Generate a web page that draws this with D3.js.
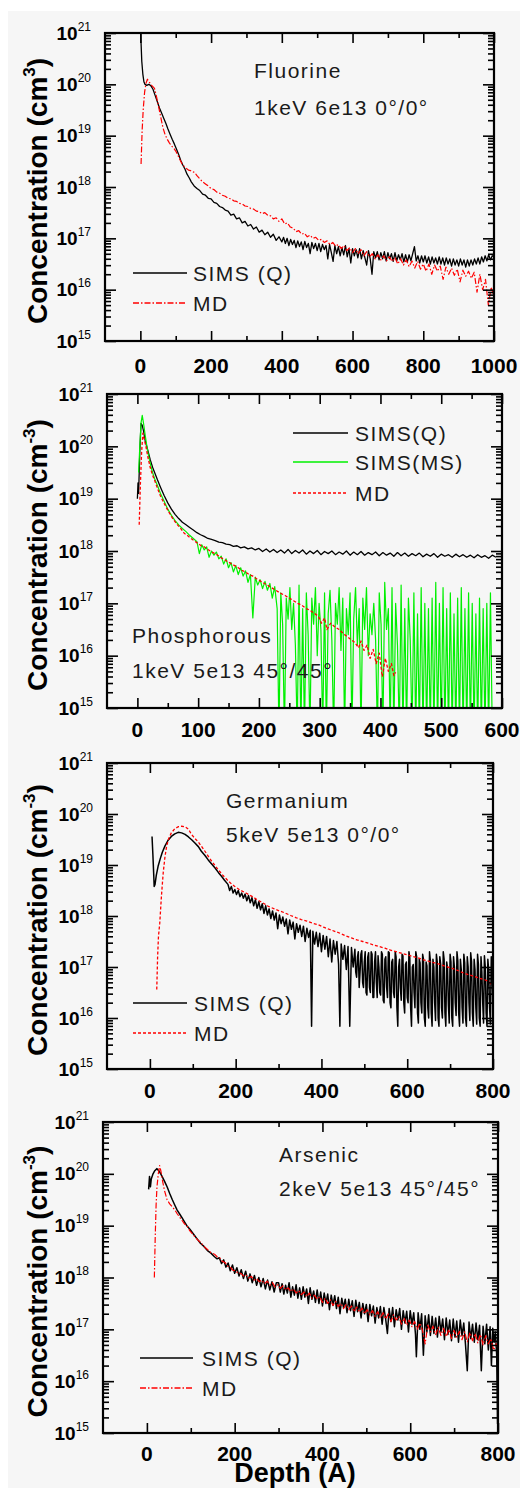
<!DOCTYPE html>
<html>
<head>
<meta charset="utf-8">
<script src="https://cdn.jsdelivr.net/npm/d3@7"></script>
<style>
body { margin: 0; background: #fff; }
svg { display: block; }
text { font-family: "Liberation Sans", Arial, sans-serif; }
</style>
</head>
<body>
<svg id="chart" width="520" height="1488"></svg>
<script>
"use strict";

// values are [depth (A), log10 concentration (cm-3)]; 14.5 means the signal fell off the axis
var fluorineSims = [[0,21.3],[2,20.8],[4,20.45],[7,20.2],[10,20.05],[13,20.0],[18,19.98],[24,20.0],[30,19.97],[36,19.9],[42,19.78],[48,19.66],[54,19.54],[60,19.44],[66,19.34],[72,19.24],[78,19.13],[84,19.03],[90,18.93],[96,18.84],[102,18.74],[108,18.64],[114,18.52],[120,18.43],[126,18.35],[132,18.25],[138,18.18],
  [144,18.1],[152,18.02],[160,17.97],[168,17.93],[176,17.86],[184,17.84],[192,17.78],[200,17.77],[208,17.7],[216,17.68],[224,17.62],[232,17.6],[240,17.55],[248,17.53],[256,17.45],[264,17.47],[272,17.38],[280,17.4],[288,17.3],[296,17.33],[304,17.24],[312,17.27],[320,17.18],[328,17.22],[336,17.12],[344,17.16],[352,17.07],[360,17.12],[368,17.02],[376,17.08],[384,16.96],[392,17.03],
  [400,16.93],[405,17.02],[410,16.9],[415,17.0],[420,16.86],[425,16.98],[430,16.88],[435,16.96],[440,16.82],[445,16.95],[450,16.84],[455,16.93],[460,16.78],[465,16.94],[470,16.82],[475,16.9],[480,16.7],[485,16.92],[490,16.8],[495,16.9],[500,16.76],[505,16.9],[510,16.74],[515,16.88],[520,16.78],[525,16.86],[530,16.6],[535,16.88],[540,16.72],[545,16.55],[550,16.86],[555,16.7],[560,16.84],[565,16.66],[570,16.82],[575,16.68],[580,16.86],[585,16.64],[590,16.8],[595,16.52],[600,16.8],[605,16.66],[610,16.78],[615,16.62],[620,16.8],[625,16.6],[630,16.76],[635,16.62],[640,16.48],[645,16.76],[650,16.6],[655,16.3],[660,16.74],[665,16.62],[670,16.74],[675,16.58],[680,16.72],[685,16.6],[690,16.74],[695,16.56],[700,16.72],[705,16.6],[710,16.7],[715,16.55],[720,16.72],[725,16.56],[730,16.68],[735,16.58],[740,16.7],[745,16.54],[750,16.68],[755,16.54],[760,16.68],[765,16.56],[770,16.7],[775,16.84],[780,16.56],[785,16.66],[790,16.52],[795,16.66],[800,16.54],[805,16.66],[810,16.52],[815,16.64],[820,16.5],[825,16.64],[830,16.52],[835,16.62],[840,16.5],[845,16.64],[850,16.5],[855,16.62],[860,16.48],[865,16.62],[870,16.5],[875,16.6],[880,16.46],[885,16.6],[890,16.48],[895,16.58],[900,16.46],[905,16.6],[910,16.48],[915,16.58],[920,16.44],[925,16.58],[930,16.46],[935,16.58],[940,16.48],[945,16.6],[950,16.5],[955,16.62],[960,16.5],[965,16.64],[970,16.54],[975,16.66],[980,16.56],[985,16.68],[990,16.58],[995,16.66],[1000,16.64]];

var fluorineMd = [[2,18.45],[5,19.1],[8,19.5],[12,19.85],[16,20.02],[20,20.1],[24,20.05],[28,20.02],[32,19.98],[36,19.95],[40,19.92],[46,19.75],[52,19.55],[58,19.35],[64,19.15],[70,19.02],[76,18.93],[82,18.86],[88,18.8],[94,18.76],[100,18.7],[106,18.62],[112,18.53],[118,18.45],[124,18.4],[130,18.36],[136,18.33],[142,18.32],[148,18.3],[154,18.28],[160,18.22],[168,18.16],[176,18.1],[184,18.06],[192,18.02],
  [200,17.97],[208,17.95],[216,17.9],[224,17.88],[232,17.84],[240,17.82],[248,17.78],[256,17.77],[264,17.73],[272,17.72],[280,17.68],[288,17.67],[296,17.63],[304,17.62],[312,17.58],[320,17.57],[328,17.53],[336,17.52],[344,17.48],[352,17.5],[360,17.45],[368,17.44],[376,17.38],[384,17.4],[392,17.33],[400,17.38],[408,17.28],[416,17.3],[424,17.22],[432,17.2],[440,17.13],[448,17.15],[456,17.08],[464,17.1],[472,17.03],[480,17.06],[488,17.0],[496,17.02],[504,16.96],[512,16.98],[520,16.92],[528,16.95],[536,16.88],[544,16.92],[552,16.85],[560,16.88],[568,16.8],[576,16.86],[584,16.76],[592,16.82],[600,16.72],[608,16.8],[616,16.7],[624,16.78],[632,16.66],[640,16.74],[648,16.64],[656,16.7],[664,16.6],[672,16.68],[680,16.58],[688,16.66],[696,16.56],[704,16.64],[712,16.55],[720,16.62],[728,16.5],[736,16.6],[744,16.48],[752,16.58],[760,16.45],[768,16.56],[776,16.42],[784,16.55],[792,16.4],[800,16.5],[808,16.36],[816,16.5],[824,16.3],[832,16.48],[840,16.36],[848,16.46],[856,16.2],[864,16.44],[872,16.3],[880,16.42],[888,16.28],[896,16.4],[904,16.15],[912,16.38],[920,16.26],[928,16.36],[936,16.22],[944,16.34],[952,15.95],[960,16.3],[968,16.0],[976,16.2],[984,15.7],[992,16.05],[1000,15.85]];

var phosSimsQ = [[0,19.0],[1,19.3],[2,19.1],[4,19.9],[6,20.44],[8,20.4],[10,20.3],[13,20.1],[17,19.93],[21,19.75],[25,19.6],[29,19.48],[33,19.36],[38,19.22],[44,19.06],[50,18.92],[56,18.8],[62,18.7],[68,18.62],[74,18.55],[80,18.5],[86,18.45],[92,18.4],[98,18.35],[104,18.31],[110,18.28],[116,18.24],[122,18.22],[128,18.2],[134,18.17],[140,18.16],[146,18.13],[152,18.12],[158,18.09],[164,18.1],[170,18.06],[176,18.08],[182,18.04],[188,18.06],[194,18.02],[200,18.05],
  [206,17.99],[212,18.04],[218,17.98],[224,18.03],[230,17.97],[236,18.02],[242,17.96],[248,18.03],[254,17.95],[260,18.01],[266,17.96],[272,18.02],[278,17.94],[284,18.0],[290,17.95],[296,18.01],[302,17.93],[308,17.99],[314,17.95],[320,18.0],[326,17.93],[332,17.98],[338,17.94],[344,18.0],[350,17.92],[356,17.98],[362,17.93],[368,17.99],[374,17.92],[380,17.97],[386,17.93],[392,17.98],[398,17.91],[404,17.97],[410,17.92],[416,17.96],[422,17.9],[428,17.97],[434,17.91],[440,17.96],[446,17.9],[452,17.95],[458,17.91],[464,17.96],[470,17.89],[476,17.94],[482,17.9],[488,17.95],[494,17.88],[500,17.94],[506,17.9],[512,17.93],[518,17.88],[524,17.94],[530,17.89],[536,17.93],[542,17.88],[548,17.92],[554,17.87],[560,17.93],[566,17.88],[572,17.91],[578,17.86],[584,17.92],[590,17.88]];

var phosSimsMs = [[2,19.5],[4,20.0],[6,20.45],[8,20.59],[10,20.45],[13,20.2],[17,19.9],[21,19.68],[25,19.5],[29,19.36],[33,19.25],[38,19.1],[44,18.95],[50,18.8],[56,18.68],[62,18.58],[68,18.5],[74,18.43],[80,18.37],[86,18.3],[92,18.24],[98,18.18],[102,17.95],[106,18.12],[110,18.02],[114,18.08],[118,17.88],[122,18.0],[126,17.92],[130,17.98],[134,17.85],[138,17.9],[142,17.75],[146,17.85],[150,17.68],[154,17.78],[158,17.6],[162,17.72],[166,17.55],[170,17.68],[174,17.52],[178,17.62],[182,17.4],[186,17.55],[190,16.72],[194,17.5],[198,17.35],[202,17.45],[206,17.28],[210,17.42],[214,17.25],[218,17.38],[222,17.1],[226,17.32],
  [230,16.9],[233,14.5],[236,17.2],[239,16.6],[242,14.5],[245,17.1],[248,16.7],[251,17.3],[254,16.5],[257,17.0],[260,16.2],[263,14.5],[266,17.35],[269,14.5],[272,16.9],[275,14.5],[278,17.2],[281,16.4],[284,14.5],[287,17.1],[290,16.6],[293,17.3],[296,16.0],[299,17.0],[302,16.5],[305,14.5],[308,17.2],[311,14.5],[314,16.8],[317,17.25],[320,16.3],[323,14.5],[326,17.0],[329,16.6],[332,17.3],[335,16.1],[338,17.1],[341,14.5],[344,16.9],[347,16.4],[350,17.2],[353,14.5],[356,16.7],[359,17.3],[362,16.2],[365,16.9],[368,14.5],[371,17.1],[374,16.5],[377,17.3],[380,16.0],[383,16.8],[386,16.4],[389,17.0],[392,16.3],[395,14.5],[398,17.2],[401,16.6],[404,14.5],[407,17.4],[410,16.5],[413,16.9],[416,14.5],[419,17.3],[422,14.5],[425,17.0],[428,16.2],[431,14.5],[434,17.35],[437,14.5],[440,16.9],[443,14.5],[446,17.1],[449,16.3],[452,14.5],[455,17.2],[458,14.5],[461,16.8],[464,14.5],[467,17.3],[470,14.5],[473,17.0],[476,14.5],[479,16.9],[482,14.5],[485,17.1],[488,14.5],[491,17.4],[494,14.5],[497,17.0],[500,14.5],[503,17.3],[506,14.5],[509,16.9],[512,14.5],[515,17.2],[518,14.5],[521,16.8],[524,14.5],[527,17.1],[530,14.5],[533,17.3],[536,14.5],[539,16.9],[542,14.5],[545,17.2],[548,14.5],[551,17.0],[554,14.5],[557,16.8],[560,14.5],[563,17.1],[566,14.5],[569,16.9],[572,14.5],[575,17.0],[578,14.5],[581,17.2],[584,14.5]];

var phosMd = [[3,18.5],[5,19.3],[7,19.9],[9,20.25],[11,20.15],[14,20.0],[17,19.81],[21,19.6],[25,19.45],[28,19.36],[33,19.2],[38,19.05],[44,18.91],[50,18.78],[56,18.66],[60,18.59],[66,18.5],[72,18.42],[77,18.34],[82,18.3],[88,18.24],[94,18.19],[99,18.15],[105,18.1],[110,18.08],[116,18.03],[121,17.99],[126,17.96],[132,17.92],[138,17.87],[143,17.84],[148,17.8],[154,17.76],[160,17.72],[166,17.68],[172,17.63],[178,17.6],[184,17.55],[190,17.52],[196,17.47],[202,17.43],[209,17.38],[215,17.34],[222,17.29],[229,17.24],[236,17.19],[243,17.15],[250,17.1],[257,17.05],[264,17.0],[271,16.96],[278,16.9],[285,16.86],[291,16.81],[298,16.75],[303,16.62],[308,16.72],[312,16.5],[318,16.62],[325,16.55],[332,16.5],[339,16.42],[346,16.36],[352,16.3],[358,16.25],[364,16.15],[368,16.28],[373,16.1],[378,16.2],[383,15.95],[388,16.12],[393,15.85],[398,16.05],[403,15.6],[408,15.95],[413,15.7],[418,15.85],[422,15.62],[425,15.68]];

var germSims = [[5,19.56],[7,19.2],[9,18.8],[10,18.58],[12,18.62],[15,18.8],[19,18.97],[24,19.12],[29,19.25],[35,19.37],[42,19.48],[50,19.56],[58,19.61],[66,19.64],[74,19.63],[82,19.6],[90,19.55],[98,19.49],[105,19.43],[113,19.36],[120,19.27],[128,19.19],[136,19.1],[144,19.02],[152,18.94],[160,18.85],[167,18.78],[174,18.7],[182,18.62],[186,18.5],[190,18.58],[194,18.45],[198,18.52],[202,18.42],[206,18.5],[210,18.38],[214,18.45],
  [218,18.35],[222,18.43],[226,18.3],[230,18.4],[234,18.26],[238,18.36],[242,18.2],[246,18.32],[250,18.15],[254,18.28],[258,18.12],[262,18.24],[266,18.05],[270,18.2],[274,18.02],[278,18.14],[282,17.95],[286,18.1],[290,17.92],[294,18.06],[298,17.75],[302,18.02],[306,17.85],[310,17.98],[314,17.8],[318,17.94],[322,17.65],[326,17.92],[330,17.74],[334,17.88],[338,17.55],[342,17.85],[346,17.68],[350,17.82],[354,17.6],[358,17.8],[362,17.5],[366,17.76],[370,17.58],[374,17.72],[377,15.84],[380,17.7],[384,17.45],[388,17.68],[392,17.4],[396,17.66],[400,17.3],[404,17.62],[408,17.35],[412,17.6],[416,17.2],[420,17.55],[424,17.1],[428,17.52],[432,17.25],[436,17.5],[440,17.05],[443,15.84],[446,17.45],[450,17.15],[454,17.42],[458,16.95],[462,17.4],[466,15.84],[470,17.38],[474,17.0],
  [478,17.35],[480,16.9],[482,16.8],[484,17.2],[486,17.3],[488,16.6],[490,16.9],[492,17.25],[494,17.32],[496,16.7],[498,16.6],[500,17.1],[502,17.3],[504,16.5],[506,16.45],[508,17.2],[510,17.28],[512,16.6],[514,16.5],[516,17.3],[518,17.25],[520,16.4],[522,16.4],[524,17.1],[526,17.3],[528,16.7],[530,16.4],[532,17.22],[534,17.0],[536,16.5],[538,16.45],[540,17.3],[542,17.25],[544,16.35],[546,16.3],[548,17.15],[550,17.2],[552,16.6],[554,16.4],[556,17.3],[558,17.28],[560,16.3],[562,16.2],[564,17.1],[566,17.15],[568,16.5],[570,16.4],[572,17.3],[574,17.2],[576,16.2],[578,15.84],[580,17.0],[582,17.15],[584,16.6],[586,16.35],[588,17.25],[590,17.22],[592,16.3],[594,16.1],[596,17.05],[598,17.1],[600,16.4],[602,16.3],[604,17.3],[606,17.18],[608,16.2],[610,15.84],[612,17.0],[614,17.05],[616,16.5],[618,16.2],[620,17.3],[622,17.2],[624,16.1],[626,15.9],[628,17.15],[630,17.08],[632,16.3],[634,16.1],[636,17.25],[638,17.15],[640,16.0],[642,15.84],[644,17.1],[646,17.02],[648,16.2],[650,16.0],[652,17.3],[654,17.12],[656,16.1],[658,15.84],[660,17.15],[662,17.0],[664,16.3],[666,15.95],[668,17.25],[670,17.1],[672,16.0],[674,15.84],[676,17.2],[678,17.05],[680,16.2],[682,16.0],[684,17.3],[686,17.15],[688,16.1],[690,15.84],[692,17.1],[694,16.98],[696,16.25],[698,15.9],[700,17.25],[702,17.1],[704,16.0],[706,15.84],[708,17.2],[710,17.0],[712,16.3],[714,16.05],[716,17.3],[718,17.12],[720,16.1],[722,15.84],[724,17.15],[726,16.95],[728,16.2],[730,15.9],[732,17.25],[734,17.08],[736,16.0],[738,15.84],[740,17.2],[742,17.0],[744,16.3],[746,15.95],[748,17.28],[750,17.1],[752,16.1],[754,15.84],[756,17.15],[758,16.95],[760,16.2],[762,15.88],[764,17.25],[766,17.05],[768,16.0],[770,15.84],[772,17.2],[774,16.9],[776,16.3],[778,15.9],[780,17.22],[782,17.0],[784,16.1],[786,15.84],[788,17.15],[790,16.92],[792,16.2],[794,15.88],[796,17.2],[798,17.0],[800,16.2]];

var germMd = [[16,16.56],[18,17.2],[20,17.6],[23,17.86],[27,18.4],[31,18.84],[35,19.15],[39,19.37],[44,19.52],[50,19.63],[58,19.71],[66,19.75],[74,19.76],[82,19.75],[90,19.7],[97,19.6],[105,19.52],[113,19.45],[120,19.37],[130,19.25],[140,19.12],[150,19.01],[159,18.91],[170,18.8],[180,18.71],[190,18.63],[198,18.58],[210,18.51],[224,18.45],[237,18.39],[250,18.32],[263,18.26],[276,18.19],[290,18.14],[302,18.1],[315,18.06],[328,18.01],[340,17.97],[353,17.93],[366,17.9],[379,17.86],[392,17.83],[405,17.78],[418,17.74],[431,17.7],[444,17.66],[457,17.61],[470,17.57],[483,17.53],[496,17.5],[509,17.47],[522,17.43],[535,17.4],[548,17.37],[561,17.33],[574,17.3],[586,17.27],[599,17.24],[612,17.21],[625,17.18],[638,17.14],[651,17.11],[664,17.08],[677,17.05],[690,17.01],[703,16.98],[716,16.94],[729,16.89],[742,16.85],[755,16.82],[768,16.78],[781,16.75],[792,16.7],[800,16.62]];

var arsSims = [[4,19.7],[6,19.95],[8,19.75],[10,19.9],[14,20.0],[18,20.06],[23,20.1],[28,20.05],[34,19.96],[40,19.86],[46,19.75],[52,19.62],[58,19.5],[64,19.39],[69,19.3],[75,19.22],[81,19.14],[86,19.07],[91,19.0],[98,18.93],[106,18.84],[114,18.75],[122,18.66],[130,18.6],[138,18.52],[146,18.47],[154,18.4],[160,18.36],
  [165,18.38],[170,18.27],[175,18.34],[180,18.2],[185,18.28],[190,18.13],[195,18.24],[200,18.08],[205,18.19],[210,18.03],[215,18.15],[220,17.98],[225,18.12],[230,17.93],[235,18.07],[240,17.9],[245,18.04],[250,17.85],[255,18.0],[260,17.82],[265,17.98],[270,17.78],[275,17.95],[280,17.76],[285,17.92],[290,17.72],[295,17.9],
  [300,17.9],[304,17.72],[308,17.88],[312,17.68],[316,17.85],[320,17.7],[324,17.9],[328,17.62],[332,17.82],[336,17.66],[340,17.86],[344,17.6],[348,17.8],[352,17.58],[356,17.82],[360,17.62],[364,17.78],[368,17.5],[372,17.8],[376,17.58],[380,17.74],[384,17.52],[388,17.76],[392,17.5],[396,17.72],[400,17.45],[404,17.7],[408,17.5],[412,17.68],[416,17.38],[420,17.66],[424,17.46],[428,17.65],[432,17.4],[436,17.62],[440,17.3],[444,17.6],[448,17.42],[452,17.58],[456,17.32],[460,17.58],[464,17.36],[468,17.55],[472,17.25],[476,17.56],[480,17.34],[484,17.52],[488,17.22],[492,17.5],[496,17.3],[500,17.48],[504,17.15],[508,17.48],[512,17.26],[516,17.45],[520,17.12],[524,17.42],[528,17.22],[532,17.44],[536,17.1],[540,17.42],[544,17.2],[548,16.92],[552,17.4],[556,17.15],[560,17.42],[564,17.05],[568,17.38],[572,17.18],[576,17.4],[580,17.0],[584,17.36],[588,17.12],[592,17.35],[596,16.95],[600,17.36],[604,17.1],[608,17.32],[612,16.9],[614,16.47],[618,17.32],[622,17.0],[626,17.3],[630,16.5],[634,17.26],[638,16.95],[642,17.28],[646,16.88],[650,17.25],[654,16.92],[658,17.22],[662,16.85],[666,17.25],[670,16.95],[674,17.2],[678,16.8],[682,17.22],[686,16.9],[690,17.18],[694,16.78],[698,17.2],[702,16.85],[706,17.16],[710,16.75],[714,17.18],[718,16.88],[722,17.12],[726,16.7],[730,16.2],[734,17.14],[738,16.82],[742,17.1],[746,16.75],[750,17.12],[754,16.8],[758,17.08],[762,16.2],[766,17.06],[770,16.72],[774,17.1],[778,16.6],[782,17.05],[785,16.3],[788,17.02],[791,16.75],[794,16.95],[797,16.5],[799,15.18],[800,16.8]];

var arsMd = [[17,18.0],[19,18.78],[21,19.4],[23,19.75],[26,20.0],[29,20.16],[32,20.05],[36,19.85],[40,19.68],[46,19.5],[52,19.42],[58,19.36],[64,19.3],[69,19.23],[75,19.16],[81,19.09],[86,19.03],[91,19.0],[98,18.9],[106,18.82],[114,18.74],[122,18.68],[130,18.6],[138,18.54],[146,18.48],[154,18.45],[160,18.4],[166,18.38],[172,18.31],[178,18.29],[184,18.22],[190,18.2],[196,18.14],[202,18.13],[208,18.08],[214,18.08],[220,18.03],[226,18.05],[232,17.99],[238,18.02],[244,17.95],[250,17.98],[256,17.92],[262,17.95],[268,17.88],[274,17.93],[280,17.85],[286,17.9],[292,17.82],[298,17.86],[304,17.79],[310,17.84],[316,17.76],[322,17.8],[328,17.73],[334,17.78],[340,17.7],[346,17.75],[352,17.67],[358,17.72],[364,17.63],[370,17.7],[376,17.6],[382,17.66],[388,17.58],[394,17.63],[400,17.52],[406,17.6],[412,17.5],[418,17.57],[424,17.46],[430,17.54],[436,17.44],[442,17.5],[448,17.4],[454,17.48],[460,17.38],[466,17.45],[472,17.34],[478,17.43],[484,17.33],[490,17.41],[496,17.3],[502,17.38],[508,17.28],[514,17.36],[520,17.25],[526,17.34],[532,17.22],[538,17.32],[544,17.2],[550,17.3],[556,17.15],[562,17.28],[568,17.18],[574,17.25],[580,17.1],[586,17.22],[592,17.08],[598,17.18],[604,17.05],[610,17.15],[616,17.0],[622,17.12],[628,16.98],[634,16.72],[640,17.08],[646,16.95],[652,17.06],[658,16.9],[664,17.04],[670,16.88],[676,17.02],[682,16.86],[688,17.0],[694,16.82],[700,16.98],[706,16.85],[712,16.96],[718,16.8],[724,16.95],[730,16.76],[736,16.94],[742,16.78],[748,16.92],[754,16.74],[760,16.9],[766,16.7],[772,16.88],[778,16.72],[784,16.82],[790,16.6],[796,16.72],[800,16.65]];

var decades = [15, 16, 17, 18, 19, 20, 21];
var xMajor1 = [0, 200, 400, 600, 800, 1000];
var xMajor2 = [0, 100, 200, 300, 400, 500, 600];
var xMajor34 = [0, 200, 400, 600, 800];

var svg = d3.select("#chart");

// light grey page behind the plots
svg.append("rect").attr("x", 8).attr("y", 11).attr("width", 512).attr("height", 1477).attr("fill", "#f6f6f6");

var panels = [
	{ id: 1, left: 105, right: 494, top: 33, bottom: 341, xDom: [-100, 1000], major: xMajor1, half: 100, labelY: 373, sup: "3",
		notes: ["Fluorine", "1keV 6e13 0\u00b0/0\u00b0"], noteX: 254, noteY: [78, 115],
		legX: [133, 187, 193], legY: [273, 303],
		series: [
			{ data: fluorineSims, color: "#000", dash: null, w: 1.3, name: "SIMS (Q)" },
			{ data: fluorineMd, color: "#ff0000", dash: "6,2,1.5,2", w: 1.2, name: "MD" }] },
	{ id: 2, left: 107, right: 502, top: 394, bottom: 708, xDom: [-50, 600], major: xMajor2, half: 50, labelY: 737, sup: "-3",
		notes: ["Phosphorous", "1keV 5e13 45\u00b0/45\u00b0"], noteX: 132, noteY: [643, 678],
		legX: [293, 348, 355], legY: [433, 462, 493],
		series: [
			{ data: phosSimsQ, color: "#000", dash: null, w: 1.3, name: "SIMS(Q)" },
			{ data: phosSimsMs, color: "#00f000", dash: null, w: 1.2, name: "SIMS(MS)" },
			{ data: phosMd, color: "#ff0000", dash: "3,2", w: 1.3, name: "MD" }] },
	{ id: 3, left: 107, right: 493, top: 763, bottom: 1069, xDom: [-100, 800], major: xMajor34, half: 100, labelY: 1098, sup: "-3",
		notes: ["Germanium", "5keV 5e13 0\u00b0/0\u00b0"], noteX: 226, noteY: [808, 842],
		legX: [133, 187, 194], legY: [1003, 1033],
		series: [
			{ data: germSims, color: "#000", dash: null, w: 1.5, name: "SIMS (Q)" },
			{ data: germMd, color: "#ff0000", dash: "3,2", w: 1.3, name: "MD" }] },
	{ id: 4, left: 103, right: 498, top: 1122, bottom: 1433, xDom: [-100, 800], major: xMajor34, half: 100, labelY: 1461, sup: "-3",
		notes: ["Arsenic", "2keV 5e13 45\u00b0/45\u00b0"], noteX: 279, noteY: [1162, 1196],
		legX: [140, 193, 202], legY: [1358, 1388],
		series: [
			{ data: arsSims, color: "#000", dash: null, w: 1.5, name: "SIMS (Q)" },
			{ data: arsMd, color: "#ff0000", dash: "6,2,1.5,2", w: 1.2, name: "MD" }] }
];

function isDecade(t) {
	var l = Math.log10(t);
	return Math.abs(l - Math.round(l)) < 1e-6;
}

function tickAxis(g, axis, tx, ty) {
	g.append("g")
		.attr("transform", "translate(" + tx + "," + ty + ")")
		.call(axis)
		.call(function(s) { s.select(".domain").remove(); })
		.selectAll("line").attr("stroke-width", 1.6);
}

function drawPanel(p) {
	var x = d3.scaleLinear().domain(p.xDom).range([p.left, p.right]);
	var y = d3.scaleLog().domain([1e15, 1e21]).range([p.bottom, p.top]);
	var g = svg.append("g");

	svg.append("clipPath").attr("id", "clip" + p.id)
		.append("rect").attr("x", p.left).attr("y", p.top)
		.attr("width", p.right - p.left).attr("height", p.bottom - p.top);

	var line = d3.line()
		.x(function(d) { return x(d[0]); })
		.y(function(d) { return y(Math.pow(10, d[1])); });

	p.series.forEach(function(s) {
		g.append("path").datum(s.data)
			.attr("clip-path", "url(#clip" + p.id + ")")
			.attr("fill", "none")
			.attr("stroke", s.color)
			.attr("stroke-width", s.w)
			.attr("stroke-linejoin", "round")
			.attr("stroke-dasharray", s.dash)
			.attr("d", line);
	});

	// ticks, all pointing into the frame
	var minorX = p.major.slice(0, -1).map(function(v) { return v + p.half; });
	var yAll = y.ticks();
	var yMajor = yAll.filter(isDecade);
	var yMinor = yAll.filter(function(t) { return !isDecade(t); });

	tickAxis(g, d3.axisBottom(x).tickValues(p.major).tickSize(-10).tickFormat(""), 0, p.bottom);
	tickAxis(g, d3.axisBottom(x).tickValues(minorX).tickSize(-5).tickFormat(""), 0, p.bottom);
	tickAxis(g, d3.axisTop(x).tickValues(p.major).tickSize(-10).tickFormat(""), 0, p.top);
	tickAxis(g, d3.axisTop(x).tickValues(minorX).tickSize(-5).tickFormat(""), 0, p.top);
	tickAxis(g, d3.axisLeft(y).tickValues(yMajor).tickSize(-11).tickFormat(""), p.left, 0);
	tickAxis(g, d3.axisLeft(y).tickValues(yMinor).tickSize(-6).tickFormat(""), p.left, 0);
	tickAxis(g, d3.axisRight(y).tickValues(yMajor).tickSize(-11).tickFormat(""), p.right, 0);
	tickAxis(g, d3.axisRight(y).tickValues(yMinor).tickSize(-6).tickFormat(""), p.right, 0);

	g.append("rect")
		.attr("x", p.left).attr("y", p.top)
		.attr("width", p.right - p.left).attr("height", p.bottom - p.top)
		.attr("fill", "none").attr("stroke", "#000").attr("stroke-width", 2.2);

	g.selectAll(".xl").data(p.major).enter().append("text")
		.attr("x", function(d) { return x(d); })
		.attr("y", p.labelY)
		.attr("text-anchor", "middle")
		.attr("font-size", 21).attr("font-weight", "bold")
		.text(function(d) { return d; });

	var yl = g.selectAll(".yl").data(decades).enter().append("text")
		.attr("x", p.left - 14)
		.attr("y", function(d) { return y(Math.pow(10, d)) + 6.5; })
		.attr("text-anchor", "end");
	yl.append("tspan").attr("font-size", 19).attr("font-weight", "bold").text("10");
	yl.append("tspan").attr("font-size", 12).attr("dy", -9).text(function(d) { return d; });

	var cy = (p.top + p.bottom) / 2 + 4;
	var title = g.append("text")
		.attr("transform", "translate(47," + cy + ") rotate(-90)")
		.attr("text-anchor", "middle")
		.attr("font-size", 28).attr("font-weight", "bold");
	title.append("tspan").text("Concentration (cm");
	title.append("tspan").attr("font-size", 17).attr("dy", -12).text(p.sup);
	title.append("tspan").attr("dy", 12).text(")");

	p.notes.forEach(function(n, i) {
		g.append("text").attr("x", p.noteX).attr("y", p.noteY[i])
			.attr("font-size", 21).attr("letter-spacing", 1.5).attr("fill", "#1a1a1a")
			.text(n);
	});

	p.series.forEach(function(s, i) {
		var ly = p.legY[i];
		g.append("line")
			.attr("x1", p.legX[0]).attr("x2", p.legX[1]).attr("y1", ly).attr("y2", ly)
			.attr("stroke", s.color).attr("stroke-width", 1.4)
			.attr("stroke-dasharray", s.dash);
		g.append("text").attr("x", p.legX[2]).attr("y", ly + 7.5)
			.attr("font-size", 21).attr("letter-spacing", 1.5).attr("fill", "#1a1a1a")
			.text(s.name);
	});
}

panels.forEach(drawPanel);

svg.append("text")
	.attr("x", 295).attr("y", 1482)
	.attr("text-anchor", "middle")
	.attr("font-size", 27).attr("font-weight", "bold")
	.text("Depth (A)");
</script>
</body>
</html>
